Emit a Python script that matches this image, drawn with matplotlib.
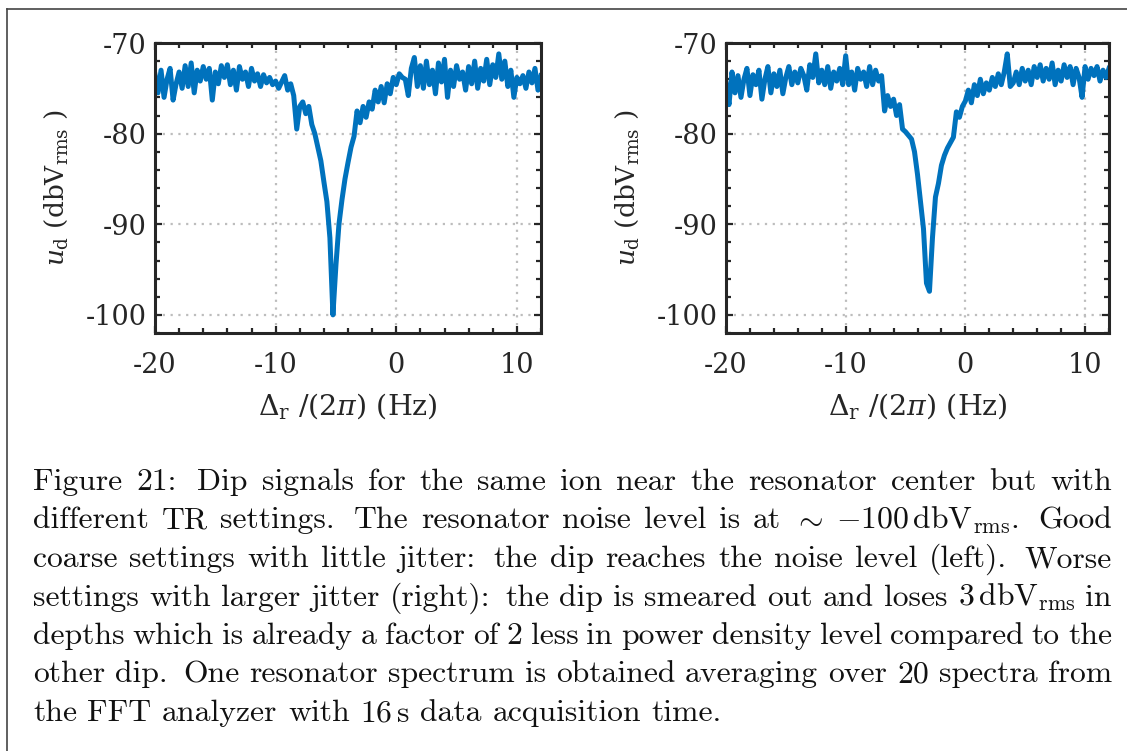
import numpy as np
import matplotlib
matplotlib.use("Agg")
import matplotlib.pyplot as plt
from matplotlib.lines import Line2D
from matplotlib.ticker import MultipleLocator

plt.rcParams['font.family'] = ['DejaVu Serif']
plt.rcParams['mathtext.fontset'] = 'dejavuserif'
plt.rcParams['axes.unicode_minus'] = False

# detuning grid (Hz), 0.25 Hz steps from -20 to 12
detuning = np.linspace(-20, 12, 129)

# left panel: good coarse settings, little jitter (dbV_rms)
dip_left = [
    -73.5, -75.5, -73.0, -76.0, -74.0, -72.8, -76.3, -74.5,
    -73.2, -75.0, -72.5, -74.8, -72.2, -75.5, -73.0, -74.2,
    -72.6, -74.0, -72.8, -76.3, -73.2, -74.5, -72.5, -73.8,
    -72.4, -74.6, -73.0, -75.2, -72.6, -74.0, -73.2, -74.8,
    -72.8, -74.2, -73.4, -74.8, -73.5, -74.4, -73.8, -74.6,
    -74.2, -75.0, -74.3, -73.6, -75.2, -74.5, -75.8, -79.5,
    -77.0, -76.5, -77.8, -77.0, -79.0, -80.0, -81.5, -83.0,
    -85.3, -87.5, -91.5, -100.0, -94.5, -90.0, -87.3, -85.0,
    -83.2, -81.5, -80.3, -77.5, -78.8, -77.0, -78.2, -76.5,
    -77.3, -75.2, -76.5, -74.8, -76.6, -74.5, -75.6, -73.8,
    -74.6, -73.4, -73.8, -74.0, -75.8, -72.8, -71.6, -74.8,
    -72.5, -75.0, -72.0, -74.6, -73.0, -75.6, -72.2, -74.3,
    -71.8, -76.0, -73.0, -74.8, -72.5, -74.0, -73.2, -75.2,
    -72.6, -74.5, -72.0, -75.0, -72.8, -74.2, -71.8, -74.6,
    -72.4, -73.8, -71.2, -74.0, -72.0, -74.8, -73.0, -76.0,
    -73.8, -74.5, -73.6, -75.0, -73.2, -74.4, -72.8, -75.2,
    -73.6,
]

# right panel: worse settings, larger jitter (dbV_rms)
dip_right = [
    -74.5, -76.8, -73.2, -75.5, -73.6, -76.0, -74.0, -72.8,
    -75.8, -73.5, -74.6, -73.0, -76.2, -74.0, -72.6, -75.5,
    -73.4, -74.8, -73.0, -75.6, -73.8, -72.6, -74.6, -73.2,
    -74.4, -72.8, -73.6, -75.2, -72.4, -73.8, -71.2, -74.4,
    -73.0, -74.6, -72.6, -75.0, -73.2, -74.2, -72.8, -74.6,
    -71.4, -74.6, -73.2, -75.2, -72.8, -74.0, -73.2, -74.8,
    -72.6, -74.6, -73.0, -74.2, -73.6, -77.5, -75.8, -77.0,
    -76.2, -78.0, -76.8, -79.5, -79.8, -80.2, -80.6, -82.0,
    -84.5, -87.5, -90.5, -96.5, -97.4, -91.5, -87.0, -85.5,
    -83.5, -82.4, -81.6, -81.0, -80.4, -77.6, -78.2, -77.0,
    -76.4, -75.2, -76.6, -74.6, -75.8, -74.0, -75.6, -74.4,
    -75.2, -73.8, -74.8, -73.4, -74.6, -73.2, -71.2, -74.8,
    -74.4, -73.2, -74.6, -72.8, -74.2, -73.0, -74.6, -72.6,
    -73.8, -72.4, -74.2, -72.8, -74.0, -72.2, -74.6, -73.0,
    -74.2, -72.4, -73.8, -72.6, -74.6, -72.8, -73.8, -76.0,
    -72.6, -74.0, -72.8, -73.6, -72.6, -74.2, -73.0, -73.8,
    -72.8,
]

caption_lines = [
    r"Figure 21: Dip signals for the same ion near the resonator center but with",
    r"different TR settings. The resonator noise level is at $\sim$ $-100\,\mathrm{dbV}_{\mathrm{rms}}.$ Good",
    r"coarse settings with little jitter: the dip reaches the noise level (left). Worse",
    r"settings with larger jitter (right): the dip is smeared out and loses $3\,\mathrm{dbV}_{\mathrm{rms}}$ in",
    r"depths which is already a factor of 2 less in power density level compared to the",
    r"other dip. One resonator spectrum is obtained averaging over 20 spectra from",
    r"the FFT analyzer with $16\,\mathrm{s}$ data acquisition time.",
]

W, H = 1127, 751
fig = plt.figure(figsize=(W / 100, H / 100), dpi=100)

dark = '#262626'
axes_px = [(155, 541), (726, 1109)]
for (x0, x1), vals in zip(axes_px, [dip_left, dip_right]):
    ax = fig.add_axes([x0 / W, 1 - 333 / H, (x1 - x0) / W, (333 - 43) / H])
    ax.plot(detuning, vals, color='#0072BD', lw=3.6, solid_joinstyle='round')
    ax.set_xlim(-20, 12)
    ax.set_ylim(-102, -70)
    ax.set_xticks([-20, -10, 0, 10])
    ax.set_yticks([-100, -90, -80, -70])
    ax.xaxis.set_minor_locator(MultipleLocator(2))
    ax.yaxis.set_minor_locator(MultipleLocator(2))
    ax.grid(True, which='major', color='#bdbdbd', lw=1.6, ls=(0, (1, 2.5)))
    ax.tick_params(which='both', direction='in', top=True, right=True,
                   color=dark, width=1.6, labelsize=19.5, labelcolor=dark)
    ax.tick_params(which='major', length=5)
    ax.tick_params(which='minor', length=3.5)
    ax.tick_params(axis='x', pad=14)
    ax.tick_params(axis='y', pad=6)
    for s in ax.spines.values():
        s.set_linewidth(2.2)
        s.set_color(dark)
    ax.set_xlabel(r"$\Delta_{\mathrm{r}}\,\,/(2\pi)$ (Hz)", fontsize=20.5, color=dark, labelpad=8)
    ax.set_ylabel(r"$u_{\mathrm{d}}$ (dbV$_{\mathrm{rms}}$ )", fontsize=19, color=dark, labelpad=11)

# page frame
fig.add_artist(Line2D([7 / W, 7 / W], [0, 1 - 9 / H], transform=fig.transFigure, color='#444444', lw=1.2))
fig.add_artist(Line2D([7 / W, 1], [1 - 9 / H, 1 - 9 / H], transform=fig.transFigure, color='#444444', lw=1.2))

# caption, justified like the LaTeX original
renderer = fig.canvas.get_renderer()
left_px, right_px = 33, 1112
base0, skip = 490, 38.5
cap_kw = dict(family='cmr10', math_fontfamily='cm', fontsize=22.8, color='#111111', va='baseline', ha='left')
for i, line in enumerate(caption_lines):
    words = line.split(' ')
    y = 1 - (base0 + i * skip) / H
    texts = [fig.text(0, y, w, **cap_kw) for w in words]
    widths = [t.get_window_extent(renderer).width for t in texts]
    weights = [1.5 if w.endswith(('.', ':', '.$')) else 1.0 for w in words[:-1]]
    if i < len(caption_lines) - 1:
        unit = (right_px - left_px - sum(widths)) / sum(weights)
    else:
        unit = 10.5
    x = left_px
    for j, (t, wd) in enumerate(zip(texts, widths)):
        t.set_x(x / W)
        if j < len(weights):
            x += wd + unit * weights[j]

fig.savefig('out.png', dpi=100)
